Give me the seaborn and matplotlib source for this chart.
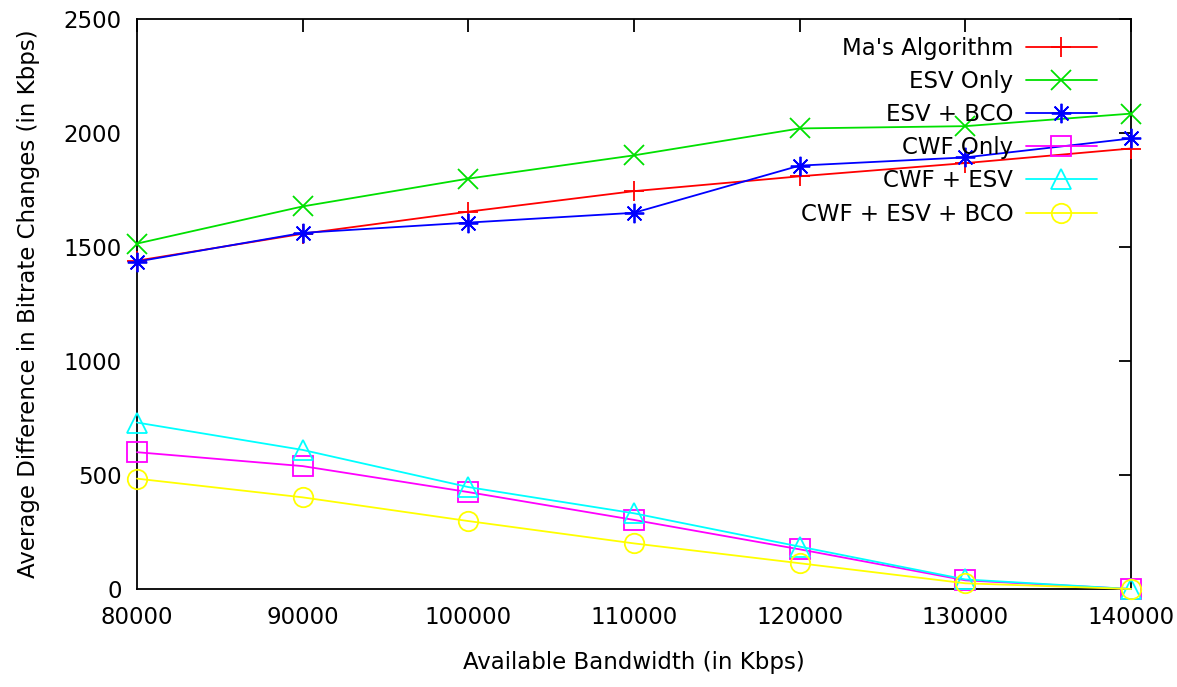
import matplotlib
matplotlib.use("Agg")
import matplotlib.pyplot as plt
import seaborn as sns
import numpy as np

# Available bandwidth (Kbps)
bandwidth = [80000, 90000, 100000, 110000, 120000, 130000, 140000]

# Average difference in bitrate changes (Kbps) per scheme
ma_algorithm = [1440, 1558, 1655, 1745, 1810, 1868, 1932]
esv_only = [1515, 1678, 1800, 1902, 2020, 2030, 2085]
esv_bco = [1436, 1562, 1607, 1650, 1857, 1893, 1976]
cwf_only = [600, 539, 425, 303, 174, 38, 0]
cwf_esv = [730, 610, 447, 332, 186, 42, 0]
cwf_esv_bco = [484, 402, 298, 200, 113, 25, 0]

series = [
    ("Ma's Algorithm", ma_algorithm, "#ff0000", "+"),
    ("ESV Only", esv_only, "#00e000", "x"),
    ("ESV + BCO", esv_bco, "#0000ff", (8, 2, 0)),
    ("CWF Only", cwf_only, "#ff00ff", "s"),
    ("CWF + ESV", cwf_esv, "#00ffff", "^"),
    ("CWF + ESV + BCO", cwf_esv_bco, "#ffff00", "o"),
]

sns.set_style("white")
plt.rcParams["font.family"] = ["DejaVu Sans"]
plt.rcParams["text.color"] = "black"
plt.rcParams["axes.labelcolor"] = "black"
plt.rcParams["xtick.color"] = "black"
plt.rcParams["ytick.color"] = "black"

FS = 16.5

fig = plt.figure(figsize=(11.77, 6.87), dpi=100)
ax = fig.add_axes([137 / 1177, 1 - 589 / 687, (1131 - 137) / 1177, (589 - 19) / 687])

for name, vals, color, marker in series:
    sns.lineplot(
        x=bandwidth, y=vals, ax=ax, color=color, marker=marker,
        markersize=14, markerfacecolor="none", markeredgecolor=color,
        markeredgewidth=1.3, linewidth=1.3, label=name, clip_on=False,
    )

ax.set_xlim(80000, 140000)
ax.set_ylim(0, 2500)
ax.set_xticks(bandwidth)
ax.set_yticks([0, 500, 1000, 1500, 2000, 2500])
ax.xaxis.set_major_formatter(matplotlib.ticker.FuncFormatter(lambda v, p: f"{int(v)}"))

ax.tick_params(axis="both", which="major", direction="in", length=9, width=1.3,
               top=True, right=True, labelsize=FS, color="black", labelcolor="black")
ax.tick_params(axis="x", pad=12)
ax.tick_params(axis="y", pad=11)
for sp in ax.spines.values():
    sp.set_color("black")
    sp.set_linewidth(1.3)
    sp.set_zorder(0.5)

ax.set_xlabel("Available Bandwidth (in Kbps)", fontsize=FS, labelpad=16)
ax.set_ylabel("Average Difference in Bitrate Changes (in Kbps)", fontsize=FS, labelpad=17)

leg = ax.legend(loc="upper right", frameon=False, markerfirst=False, fontsize=FS,
                handlelength=3.1, labelspacing=0.44, handletextpad=0.55,
                borderaxespad=0.0, bbox_to_anchor=(1 - 25 / 994, 1 - 9 / 570),
                numpoints=1)

fig.savefig("out.png", dpi=100)
